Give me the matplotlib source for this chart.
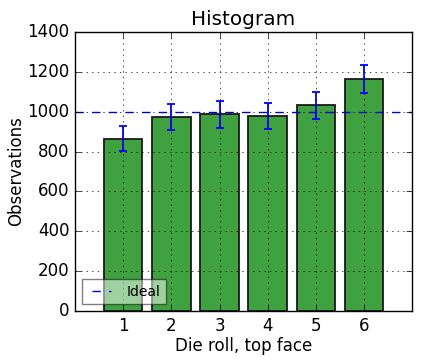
import matplotlib
matplotlib.use('Agg')
import matplotlib.pyplot as plt
import numpy as np

plt.style.use('classic')

faces = [1, 2, 3, 4, 5, 6]
counts = [865, 972, 987, 977, 1032, 1163]
errors = [62, 66, 67, 65, 67, 70]
ideal = 1000

fig = plt.figure(figsize=(4.24, 3.6), dpi=100, facecolor='white')
ax = fig.add_axes([0.177, 0.136, 0.795, 0.775])

ax.bar(faces, counts, width=0.8, align='center', color=(0.25, 0.63, 0.25),
       edgecolor='#1a1a1a', linewidth=1.3)
ax.errorbar(faces, counts, yerr=errors, fmt='none', ecolor='b', capsize=3,
            elinewidth=1.3, capthick=1.3)
ax.axhline(ideal, color='b', linestyle='--', label='Ideal')

ax.set_xlim(0, 7)
ax.set_ylim(0, 1400)
ax.set_xticks(faces)
ax.set_title('Histogram')
ax.set_xlabel('Die roll, top face', labelpad=2)
ax.set_ylabel('Observations', labelpad=1.5)
ax.grid(True)
ax.legend(loc='lower left', fontsize=10, framealpha=0.5)

fig.savefig('out.png', dpi=100, facecolor='white')
